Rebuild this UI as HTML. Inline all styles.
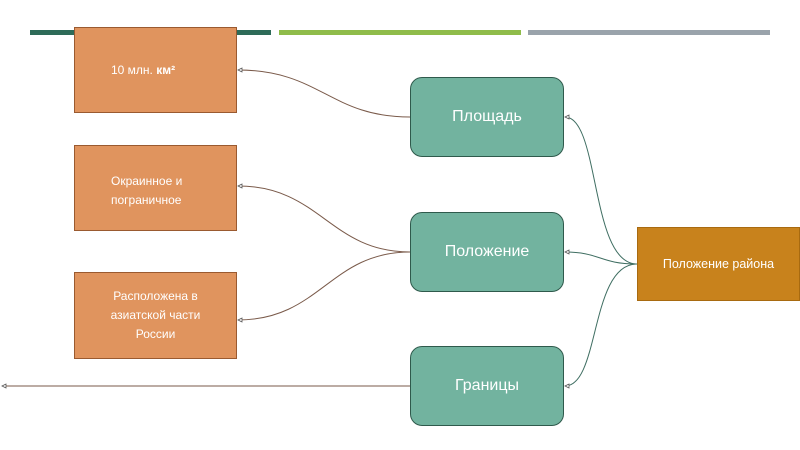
<!DOCTYPE html>
<html><head><meta charset="utf-8"><style>
body{margin:0;width:800px;height:450px;background:#fff;overflow:hidden;font-family:"Liberation Sans","DejaVu Sans",sans-serif;position:relative}
.b{position:absolute;box-sizing:border-box;color:#fff;display:flex;align-items:center;justify-content:center}
.o{background:#E0945E;border:1px solid #9a5a30;left:74px;width:163px;font-size:12px;line-height:19px;padding:0 28px 0 36px;justify-content:flex-start}
.g{background:#72B39F;border:1.5px solid #2f5a4c;border-radius:12px;left:410px;width:154px;height:80px;font-size:16px}
</style></head><body>
<div style="position:absolute;left:30px;top:30px;width:241px;height:5px;background:#2e6b58"></div>
<div style="position:absolute;left:279px;top:30px;width:242px;height:5px;background:#8fbc4a"></div>
<div style="position:absolute;left:528px;top:30px;width:242px;height:5px;background:#9aa3ab"></div>
<svg width="800" height="450" style="position:absolute;left:0;top:0">
<g fill="none" stroke-width="1">
<path d="M410 117 C330 117 320 70 238 70" stroke="#7a5a4a"/>
<path d="M410 252 C330 252 320 186 238 186" stroke="#7a5a4a"/>
<path d="M410 252 C330 252 320 320 238 320" stroke="#7a5a4a"/>
<path d="M410 386 L2 386" stroke="#7a5a4a"/>
<path d="M637 264 C590 264 600 117 565 117" stroke="#3f6e62"/>
<path d="M637 264 C600 264 600 252 565 252" stroke="#3f6e62"/>
<path d="M637 264 C590 264 600 386 565 386" stroke="#3f6e62"/>
</g>
<g fill="#fff" stroke="#555" stroke-width="0.8">
<path d="M238 70 l4 -2 v4z"/><path d="M238 186 l4 -2 v4z"/><path d="M238 320 l4 -2 v4z"/><path d="M2 386 l4 -2 v4z"/>
<path d="M565 117 l4 -2 v4z"/><path d="M565 252 l4 -2 v4z"/><path d="M565 386 l4 -2 v4z"/>
</g>
</svg>
<div class="b o" style="top:27px;height:86px"><span>10 млн. <b>км²</b></span></div>
<div class="b o" style="top:145px;height:86px;align-items:flex-start;padding-top:26px">Окраинное и пограничное</div>
<div class="b o" style="top:272px;height:87px;justify-content:center;text-align:center;padding:0 20px">Расположена в азиатской части России</div>
<div class="b g" style="top:77px">Площадь</div>
<div class="b g" style="top:212px">Положение</div>
<div class="b g" style="top:346px">Границы</div>
<div class="b" style="left:637px;top:227px;width:163px;height:74px;background:#C8821C;border:1px solid #a86a10;font-size:12.5px">Положение района</div>
</body></html>
